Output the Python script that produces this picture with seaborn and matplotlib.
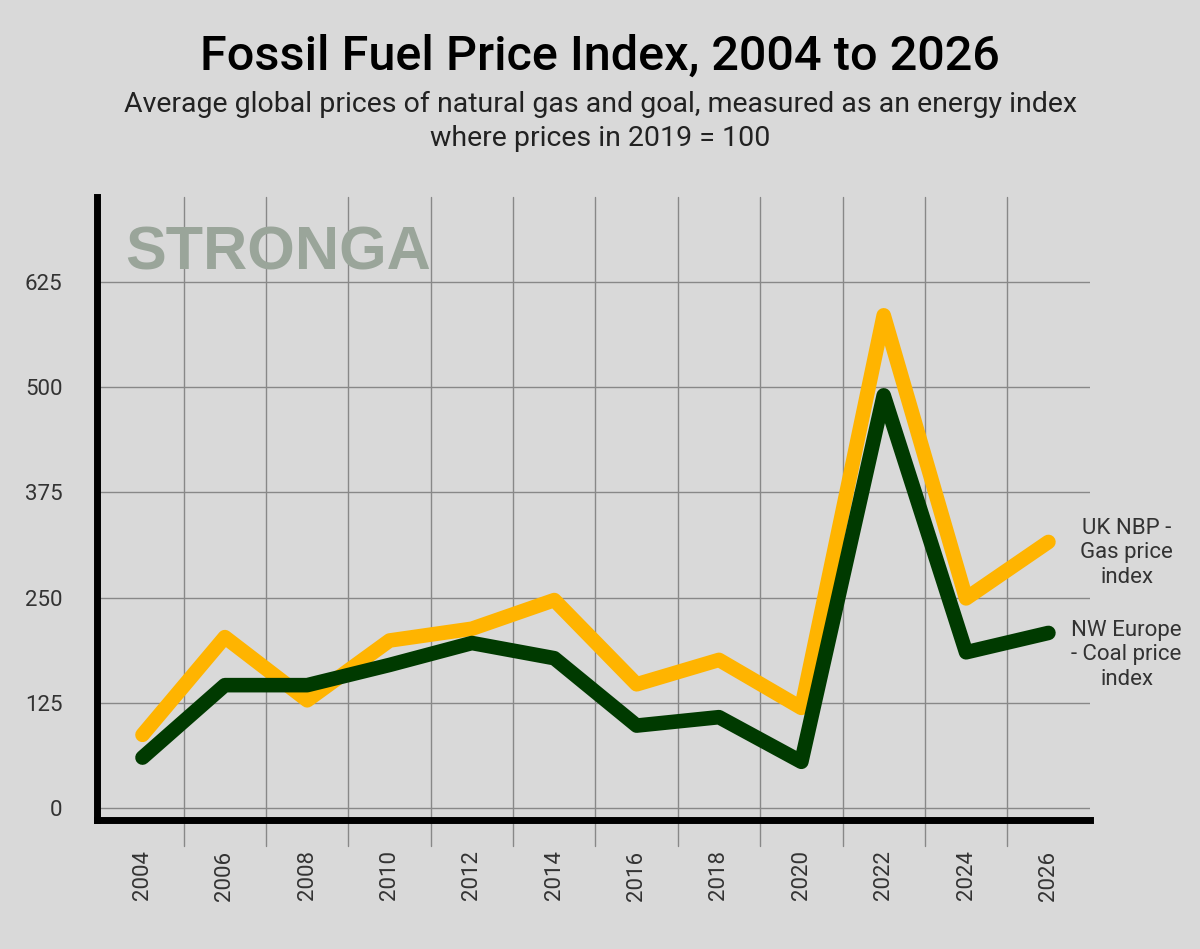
import matplotlib
matplotlib.use("Agg")
import matplotlib.pyplot as plt
import seaborn as sns
import pandas as pd

years = [2004, 2006, 2008, 2010, 2012, 2014, 2016, 2018, 2020, 2022, 2024, 2026]
gas = [87, 203, 128, 199, 213, 247, 147, 176, 119, 585, 249, 316]
coal = [60, 146, 146, 170, 196, 178, 98, 108, 55, 490, 185, 208]
yticks = [0, 125, 250, 375, 500, 625]

sns.set_theme(style="white")
plt.rcParams['font.family'] = ['Roboto', 'DejaVu Sans']
bg = "#d9d9d9"
fig = plt.figure(figsize=(12, 9.49), dpi=100, facecolor=bg)
ax = fig.add_axes([0.081, 0.136, 0.827, 0.656], facecolor=bg)

df = pd.DataFrame({"year": years, "gas": gas, "coal": coal})
sns.lineplot(data=df, x="year", y="gas", ax=ax, color="#ffb400", lw=10.5, zorder=3)
sns.lineplot(data=df, x="year", y="coal", ax=ax, color="#003a00", lw=10.5, zorder=4)

ax.set_xlim(2002.9, 2027)
ax.set_ylim(-14, 725)
for y in yticks:
    ax.axhline(y, color="#888888", lw=1, zorder=1)
for x in range(2005, 2027, 2):
    ax.plot([x, x], [-45, 725], color="#888888", lw=1, zorder=1, clip_on=False)
ax.set_yticks(yticks)
ax.set_yticklabels([str(v) for v in yticks], fontsize=16, color="#333333")
ax.tick_params(axis="y", length=0, pad=25)
ax.set_xticks(years)
ax.set_xticklabels([str(y) for y in years], rotation=90, fontsize=16, color="#333333")
ax.tick_params(axis="x", length=0, pad=22)
for s in ["top", "right"]:
    ax.spines[s].set_visible(False)
for s in ["left", "bottom"]:
    ax.spines[s].set_linewidth(5)
    ax.spines[s].set_color("black")
ax.set_xlabel("")
ax.set_ylabel("")

ax.text(0.028, 0.955, "STRONGA", transform=ax.transAxes, fontsize=44, fontweight="bold",
        color="#9aa59a", va="top", ha="left", family=["Liberation Sans Narrow", "Liberation Sans", "DejaVu Sans"])
ax.text(2027.9, 303, "UK NBP -\nGas price\nindex", fontsize=16, color="#333333",
        ha="center", va="center", clip_on=False, linespacing=1.2)
ax.text(2027.9, 182, "NW Europe\n- Coal price\nindex", fontsize=16, color="#333333",
        ha="center", va="center", clip_on=False, linespacing=1.2)

fig.text(0.5, 0.94, "Fossil Fuel Price Index, 2004 to 2026", ha="center", va="center",
         fontsize=35, fontweight="medium", color="black")
fig.text(0.5, 0.872, "Average global prices of natural gas and goal, measured as an energy index\nwhere prices in 2019 = 100",
         ha="center", va="center", fontsize=20.5, color="#222222", linespacing=1.3)

fig.savefig("out.png", dpi=100, facecolor=bg)
